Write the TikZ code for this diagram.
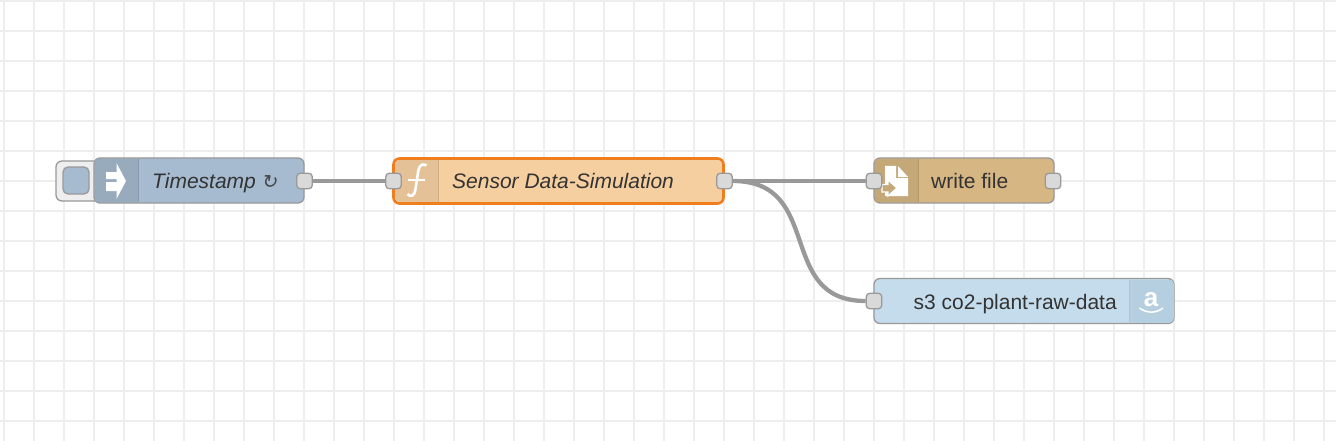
\documentclass[tikz,border=0pt]{standalone}
\usepackage{fontspec}
\usepackage{xcolor}
\setmainfont{Liberation Sans}
\newfontfamily\loopfont[FakeSlant=0.15]{DejaVu Sans}

\definecolor{gridcol}{HTML}{EEEEEE}
\definecolor{edgecol}{HTML}{999999}
\definecolor{portcol}{HTML}{D9D9D9}
\definecolor{textcol}{HTML}{333333}
\definecolor{injectcol}{HTML}{A6BBCF}
\definecolor{injectdark}{HTML}{97ABBD}
\definecolor{funccol}{HTML}{F6CFA0}
\definecolor{funcdark}{HTML}{E5C197}
\definecolor{selectcol}{HTML}{F07D1E}
\definecolor{filecol}{HTML}{D6B683}
\definecolor{filedark}{HTML}{C5A877}
\definecolor{awscol}{HTML}{C5DCEC}
\definecolor{awsdark}{HTML}{B6CFE0}

\tikzset{
    flownode/.style={draw=edgecol, line width=1.3pt, rounded corners=6pt, minimum height=45pt, inner sep=0pt},
    portbox/.style={draw=edgecol, fill=portcol, line width=1.3pt, rounded corners=3.5pt, minimum size=15.5pt, inner sep=0pt},
    wire/.style={draw=edgecol, line width=4.3pt},
    nodetext/.style={text=textcol, font=\fontsize{21}{25}\selectfont, inner sep=0pt}
}

\begin{document}
\begin{tikzpicture}[x=1pt, y=-1pt]
    \useasboundingbox (0,0) rectangle (1336,441);
    \fill[white] (0,0) rectangle (1336,441);
    % background grid
    \foreach \x in {4,34,...,1324} \draw[gridcol, line width=2pt] (\x,0) -- (\x,441);
    \foreach \y in {1,31,...,421} \draw[gridcol, line width=2pt] (0,\y) -- (1336,\y);

    % inject button
    \draw[edgecol, fill=gridcol, line width=1.3pt, rounded corners=6pt] (100,161) -- (56,161) -- (56,201) -- (100,201);
    \draw[edgecol, fill=injectcol, line width=1.3pt, rounded corners=5pt] (63,167) rectangle (89,194);

    % nodes
    \node[flownode, fill=injectcol, minimum width=210pt] (timestamp) at (199,180.5) {};
    \node[flownode, fill=funccol, draw=selectcol, line width=2.6pt, minimum width=330pt] (simulation) at (558.5,181) {};
    \node[flownode, fill=filecol, minimum width=180pt] (writefile) at (964,180.5) {};
    \node[flownode, fill=awscol, minimum width=300pt] (sthree) at (1024,301) {};

    % icon parts
    \begin{scope}
        \clip[rounded corners=6pt] (94,158) rectangle (304,203);
        \fill[injectdark] (95,159) rectangle (138,202);
    \end{scope}
    \draw[injectdark!90!black] (138,159) -- (138,202);
    \begin{scope}
        \clip[rounded corners=5pt] (395,160) rectangle (723,202);
        \fill[funcdark] (395,160) rectangle (438,202);
    \end{scope}
    \draw[funcdark!90!black] (438,160) -- (438,202);
    \begin{scope}
        \clip[rounded corners=6pt] (874,158) rectangle (1054,203);
        \fill[filedark] (875,159) rectangle (918,202);
    \end{scope}
    \draw[filedark!90!black] (918,159) -- (918,202);
    \begin{scope}
        \clip[rounded corners=6pt] (874,279) rectangle (1174,323);
        \fill[awsdark] (1129,279.5) rectangle (1173.5,322.5);
    \end{scope}
    \draw[awsdark!95!black] (1129,280) -- (1129,322);

    % icons
    \fill[white] (106,172) rectangle (117,179) (106,182) rectangle (117,191);
    \fill[white] (116.5,163) -- (126,181) -- (116.5,199) -- cycle;
    \draw[white, line width=2.6pt] (426.5,165.5) .. controls (420,162) and (418.5,168) .. (417.5,176) -- (415.5,189) .. controls (414.5,197) and (410,197) .. (407.5,194);
    \draw[white, line width=1.8pt] (408,180) -- (425,180);
    \fill[white] (885,166) -- (896,166) -- (896,178) -- (908,178) -- (908,196) -- (885,196) -- cycle;
    \fill[white] (898,166) -- (908,177) -- (898,177) -- cycle;
    \draw[white, fill=filedark, line width=1.3pt] (882,184.5) -- (888,184.5) -- (888,180) -- (897,188) -- (888,196) -- (888,192) -- (882,192) -- cycle;
    \node[text=white, inner sep=0pt, font=\fontsize{26}{26}\selectfont\bfseries] (awsicon) at (1151,300) {a};
    \draw[white, line width=1.5pt] (1139.5,308) .. controls (1147,313.5) and (1156,313.5) .. (1163,308);

    % labels
    \node[nodetext, anchor=base west] (timestamplabel) at (152,188) {\itshape Timestamp {\fontsize{19}{25}\loopfont\textcolor{textcol!85!injectcol}{↻}}};
    \node[nodetext, anchor=base west] (simulationlabel) at (452,188) {\itshape Sensor Data-Simulation};
    \node[nodetext, anchor=base west] (writefilelabel) at (931,188) {write file};
    \node[nodetext, anchor=base east] (sthreelabel) at (1117,309) {s3 co2-plant-raw-data};

    % ports
    \node[portbox] (timestampout) at (304.5,181) {};
    \node[portbox] (simulationin) at (393.5,181) {};
    \node[portbox] (simulationout) at (724.5,181) {};
    \node[portbox] (writefilein) at (874,181) {};
    \node[portbox] (writefileout) at (1053,181) {};
    \node[portbox] (sthreein) at (874,301) {};

    % wires
    \draw[wire] (timestampout) -- (simulationin);
    \draw[wire] (simulationout) -- (writefilein);
    \draw[wire] (simulationout.east) .. controls (825,181) and (775,301) .. (sthreein.west);
\end{tikzpicture}
\end{document}
